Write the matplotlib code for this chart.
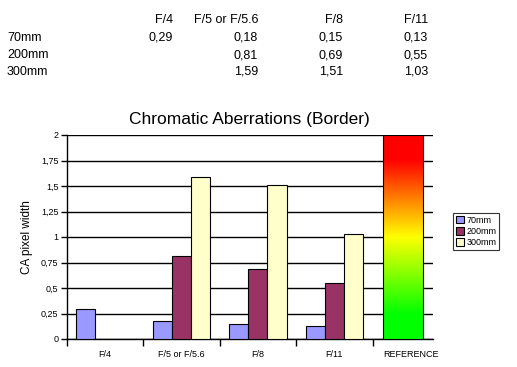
import numpy as np
import matplotlib
matplotlib.use("Agg")
from matplotlib import pyplot as plt
from matplotlib.colors import LinearSegmentedColormap
from matplotlib.patches import Patch

plt.rcParams['font.family'] = ['Liberation Sans', 'DejaVu Sans']

apertures = ["F/4", "F/5 or F/5.6", "F/8", "F/11"]
lenses = ["70mm", "200mm", "300mm"]
ca_70 = [0.29, 0.18, 0.15, 0.13]
ca_200 = [None, 0.81, 0.69, 0.55]
ca_300 = [None, 1.59, 1.51, 1.03]
ref_label = "REFERENCE"
ref_max = 2.0
colors = ["#9999ff", "#993366", "#ffffcc"]

fig = plt.figure(figsize=(5.17, 3.67), dpi=100)

# table at the top
col_x = [173, 258, 343, 428]
row_y = [20, 38, 55, 72]
for j, a in enumerate(apertures):
    fig.text(col_x[j] / 517, 1 - row_y[0] / 367, a, ha="right", va="center", fontsize=9)
for i, (name, vals) in enumerate(zip(lenses, [ca_70, ca_200, ca_300])):
    fig.text(7 / 517, 1 - row_y[i + 1] / 367, name, ha="left", va="center", fontsize=9)
    for j, v in enumerate(vals):
        if v is None:
            continue
        fig.text(col_x[j] / 517, 1 - row_y[i + 1] / 367, f"{v:.2f}".replace(".", ","),
                 ha="right", va="center", fontsize=9)

ax = fig.add_axes([66.7 / 517, 28 / 367, (433 - 66.7) / 517, (339 - 135) / 367])
x = np.arange(len(apertures))
w = 0.25
for k, (vals, c) in enumerate(zip([ca_70, ca_200, ca_300], colors)):
    v = [np.nan if t is None else t for t in vals]
    ax.bar(x + (k - 1) * w, v, width=w, color=c, edgecolor="black", linewidth=0.8,
           label=lenses[k], zorder=3)

# reference gradient bar
cmap = LinearSegmentedColormap.from_list(
    "ref", [(0, "#00ff00"), (0.12, "#00ff00"), (0.5, "#ffff00"), (0.88, "#ff0000"), (1, "#ff0000")])
grad = np.linspace(0, 1, 256).reshape(-1, 1)
ax.imshow(grad, cmap=cmap, aspect="auto", origin="lower",
          extent=(3.64, 4.16, 0, ref_max), zorder=3)
ax.add_patch(plt.Rectangle((3.64, 0), 0.52, ref_max, fill=False, edgecolor="black",
                           linewidth=0.8, zorder=4))

ax.set_xlim(-0.5, 4.29)
ax.set_ylim(0, 2)
yt = np.arange(0, 2.01, 0.25)
ax.set_yticks(yt)
ax.set_yticklabels([f"{t:g}".replace(".", ",") for t in yt], fontsize=6.5)
ax.yaxis.grid(True, color="black", linewidth=1, zorder=0)
ax.tick_params(axis="y", length=4, width=1, pad=2)
ax.set_xticks(list(x) + [4])
ax.set_xticklabels(apertures + [ref_label], fontsize=6.5)
ax.tick_params(axis="x", length=0, pad=8)
ax.set_xticks(np.arange(-0.5, 4, 1), minor=True)
ax.tick_params(axis="x", which="minor", length=5, width=1)
for s in ["top", "right"]:
    ax.spines[s].set_visible(False)
ax.spines["left"].set_linewidth(1)
ax.spines["bottom"].set_linewidth(1)
ax.set_ylabel("CA pixel width", fontsize=8.5, labelpad=6)
ax.set_title("Chromatic Aberrations (Border)", fontsize=12.5, pad=8)

handles = [Patch(facecolor=c, edgecolor="black", linewidth=0.8) for c in colors]
leg = fig.legend(handles, lenses, loc="upper left", bbox_to_anchor=(453 / 517, 1 - 213 / 367),
                 fontsize=6.5, frameon=True, fancybox=False, edgecolor="black",
                 handlelength=0.9, handleheight=0.9, handletextpad=0.3, borderpad=0.3,
                 labelspacing=0.25, borderaxespad=0)
leg.get_frame().set_linewidth(0.8)

fig.savefig("out.png", dpi=100)
